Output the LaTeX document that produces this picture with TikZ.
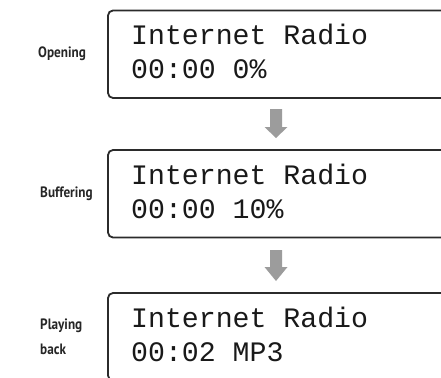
\documentclass[tikz,border=0pt]{standalone}
\usepackage{fontspec}
\newfontfamily\lcdfont{Liberation Mono}
\newfontfamily\labfont[FakeStretch=0.88]{PT Sans}
\definecolor{boxline}{HTML}{2B2B2B}
\definecolor{arrowgray}{HTML}{9C9C9C}
\tikzset{
  lcdbox/.style={draw=boxline, rounded corners=5pt, line width=1.8pt, minimum width=360pt, minimum height=87.5pt, inner sep=0pt, outer sep=0pt, anchor=north west},
  lcdtext/.style={font=\lcdfont\fontsize{28.2}{34}\selectfont, inner sep=0pt, anchor=base west, text=black!90},
  stagelabel/.style={font=\labfont\bfseries\fontsize{15}{25}\selectfont, inner sep=0pt, anchor=west, align=left, text=black!85},
  blockarrow/.style={fill=arrowgray, draw=none}
}
\newcommand\dnarrow[4]{% x center, y top, y head base, y tip
  \fill[blockarrow] (#1-6,#2) -- (#1+6,#2) -- (#1+6,#3) -- (#1+11.5,#3) -- (#1,#4) -- (#1-11.5,#3) -- (#1-6,#3) -- cycle;}
\begin{document}
\begin{tikzpicture}[x=1pt,y=-1pt]
\useasboundingbox (0,0) rectangle (441,377);
\clip (0,0) rectangle (441,377);
\fill[white] (0,0) rectangle (441,377);
% boxes
\node[lcdbox] (b1) at (108,10.5) {};
\node[lcdbox] (b2) at (108,150) {};
\node[lcdbox] (b3) at (108,293) {};
% texts
\node[lcdtext] (t1a) at (131,44.5) {Internet Radio};
\node[lcdtext] (t1b) at (131,78.5) {00:00 0\%};
\node[lcdtext] (t2a) at (131,184) {Internet Radio};
\node[lcdtext] (t2b) at (131,218) {00:00 10\%};
\node[lcdtext] (t3a) at (131,327) {Internet Radio};
\node[lcdtext] (t3b) at (131,361) {00:02 MP3};
% labels
\node[stagelabel] (l1) at (38,54) {Opening};
\node[stagelabel] (l2) at (40,194) {Buffering};
\node[stagelabel] (l3) at (40,337) {Playing\\back};
% arrows
\dnarrow{276}{109}{127}{138}
\dnarrow{276}{250}{267}{281}
\end{tikzpicture}
\end{document}
